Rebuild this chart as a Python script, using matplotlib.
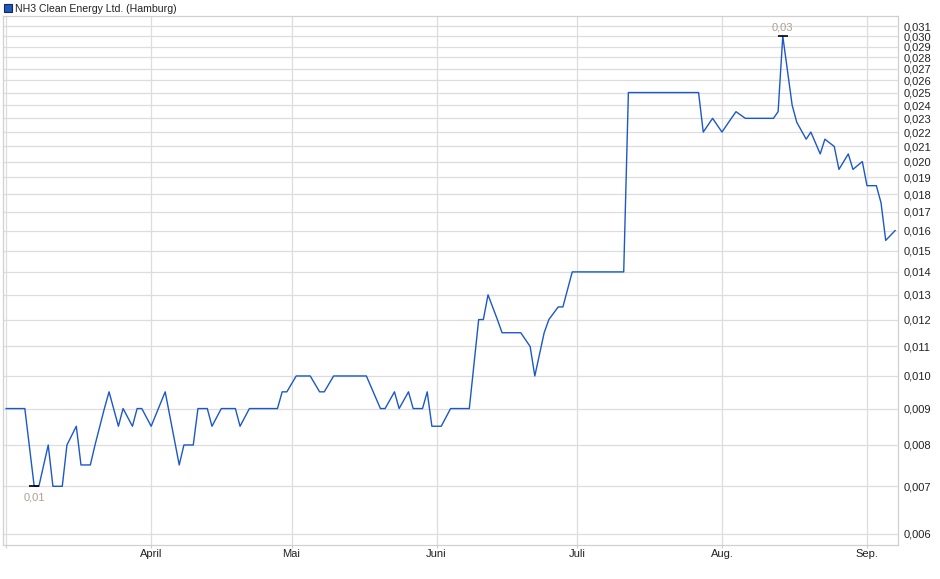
import matplotlib
matplotlib.use('Agg')
import matplotlib.pyplot as plt
import matplotlib.ticker as mticker
from matplotlib.patches import Patch
import pandas as pd

series_name = 'NH3 Clean Energy Ltd. (Hamburg)'

dates = [
    '2024-03-01', '2024-03-05', '2024-03-07', '2024-03-08', '2024-03-10', '2024-03-11',
    '2024-03-13', '2024-03-14', '2024-03-16', '2024-03-17', '2024-03-19', '2024-03-20',
    '2024-03-22', '2024-03-23', '2024-03-25', '2024-03-26', '2024-03-28', '2024-03-29',
    '2024-03-30', '2024-04-01',
    '2024-04-04', '2024-04-07', '2024-04-08', '2024-04-10', '2024-04-11', '2024-04-13',
    '2024-04-14', '2024-04-16', '2024-04-19', '2024-04-20', '2024-04-22', '2024-04-28',
    '2024-04-29', '2024-04-30',
    '2024-05-02', '2024-05-05', '2024-05-07', '2024-05-08', '2024-05-10', '2024-05-17',
    '2024-05-20', '2024-05-21', '2024-05-23', '2024-05-24', '2024-05-26', '2024-05-27',
    '2024-05-29', '2024-05-30', '2024-05-31',
    '2024-06-02', '2024-06-04', '2024-06-08', '2024-06-10', '2024-06-11', '2024-06-12',
    '2024-06-14', '2024-06-15', '2024-06-19', '2024-06-21', '2024-06-22', '2024-06-24',
    '2024-06-25', '2024-06-27', '2024-06-28', '2024-06-30',
    '2024-07-11', '2024-07-12', '2024-07-27', '2024-07-28', '2024-07-30',
    '2024-08-01', '2024-08-03', '2024-08-04', '2024-08-06', '2024-08-12', '2024-08-13',
    '2024-08-14', '2024-08-16', '2024-08-17', '2024-08-19', '2024-08-20', '2024-08-22',
    '2024-08-23', '2024-08-25', '2024-08-26', '2024-08-28', '2024-08-29', '2024-08-31',
    '2024-09-01', '2024-09-03', '2024-09-04', '2024-09-05', '2024-09-07',
]

prices = [
    0.0090, 0.0090, 0.0070, 0.0070, 0.0080, 0.0070,
    0.0070, 0.0080, 0.0085, 0.0075, 0.0075, 0.0080,
    0.0090, 0.0095, 0.0085, 0.0090, 0.0085, 0.0090,
    0.0090, 0.0085,
    0.0095, 0.0075, 0.0080, 0.0080, 0.0090, 0.0090,
    0.0085, 0.0090, 0.0090, 0.0085, 0.0090, 0.0090,
    0.0095, 0.0095,
    0.0100, 0.0100, 0.0095, 0.0095, 0.0100, 0.0100,
    0.0090, 0.0090, 0.0095, 0.0090, 0.0095, 0.0090,
    0.0090, 0.0095, 0.0085,
    0.0085, 0.0090, 0.0090, 0.0120, 0.0120, 0.0130,
    0.0120, 0.0115, 0.0115, 0.0110, 0.0100, 0.0115,
    0.0120, 0.0125, 0.0125, 0.0140,
    0.0140, 0.0250, 0.0250, 0.0220, 0.0230,
    0.0220, 0.0230, 0.0235, 0.0230, 0.0230, 0.0235,
    0.0300, 0.0240, 0.0227, 0.0215, 0.0220, 0.0205,
    0.0215, 0.0210, 0.0195, 0.0205, 0.0195, 0.0200,
    0.0185, 0.0185, 0.0175, 0.0155, 0.0160,
]

month_starts = ['2024-03-01', '2024-04-01', '2024-05-01', '2024-06-01',
                '2024-07-01', '2024-08-01', '2024-09-01']
month_labels = ['', 'April', 'Mai', 'Juni', 'Juli', 'Aug.', 'Sep.']

y_ticks = [0.006, 0.007, 0.008, 0.009, 0.010, 0.011, 0.012, 0.013, 0.014,
           0.015, 0.016, 0.017, 0.018, 0.019, 0.020, 0.021, 0.022, 0.023,
           0.024, 0.025, 0.026, 0.027, 0.028, 0.029, 0.030, 0.031]

plt.rcParams['font.family'] = ['Liberation Sans', 'DejaVu Sans']

W, H = 940, 579
fig = plt.figure(figsize=(W / 100, H / 100), dpi=100)
ax = fig.add_axes([3 / W, (H - 545) / H, 895 / W, (545 - 15.7) / H])

line_color = '#1c58c6'
x = pd.to_datetime(dates)
ax.plot(x, prices, color=line_color, lw=1.0, zorder=3)

ax.set_yscale('log')
ax.set_ylim(0.00579, 0.03205)
ax.set_xlim(pd.Timestamp('2024-02-29 08:00'), pd.Timestamp('2024-09-07 15:00'))

ax.yaxis.tick_right()
ax.set_yticks(y_ticks)
ax.yaxis.set_minor_locator(mticker.NullLocator())
ax.yaxis.set_minor_formatter(mticker.NullFormatter())
ax.set_yticklabels([f'{v:.3f}'.replace('.', ',') for v in y_ticks])
ax.tick_params(axis='y', length=0, pad=3.8, labelsize=8, labelcolor='#222222')

ax.set_xticks(pd.to_datetime(month_starts))
ax.set_xticklabels(month_labels)
ax.tick_params(axis='x', length=2.5, width=0.8, color='#cccccc', pad=0.6,
               labelsize=8, labelcolor='#222222')

ax.grid(True, which='major', color='#dddddd', lw=0.9, zorder=0)
ax.set_axisbelow(True)
for sp in ax.spines.values():
    sp.set_color('#d0d0d0')
    sp.set_linewidth(0.9)

# min / max markers
s = pd.Series(prices, index=x)
imin = s.idxmin()
imax = s.idxmax()
label_color = '#ab9f94'
ax.plot([imin], [s[imin]], marker='_', color='black', markersize=7, mew=1.2, zorder=4)
ax.annotate(f'{s[imin]:.2f}'.replace('.', ','), (imin, s[imin]), xytext=(0, -4.5),
            textcoords='offset points', ha='center', va='top', fontsize=8,
            color=label_color)
ax.plot([imax], [s[imax]], marker='_', color='black', markersize=7, mew=1.2, zorder=4)
ax.annotate(f'{s[imax]:.2f}'.replace('.', ','), (imax, s[imax]), xytext=(0, 2.5),
            textcoords='offset points', ha='center', va='bottom', fontsize=8,
            color=label_color)

handle = Patch(facecolor=line_color, edgecolor='#1a2550', lw=0.8)
fig.legend([handle], [series_name], loc='upper left', bbox_to_anchor=(0.0, 1.0),
           frameon=False, fontsize=7.6, handlelength=0.8, handleheight=0.8,
           handletextpad=0.3, borderpad=0.15, borderaxespad=0.2,
           labelcolor='#222222')

fig.savefig('out.png', dpi=100)
